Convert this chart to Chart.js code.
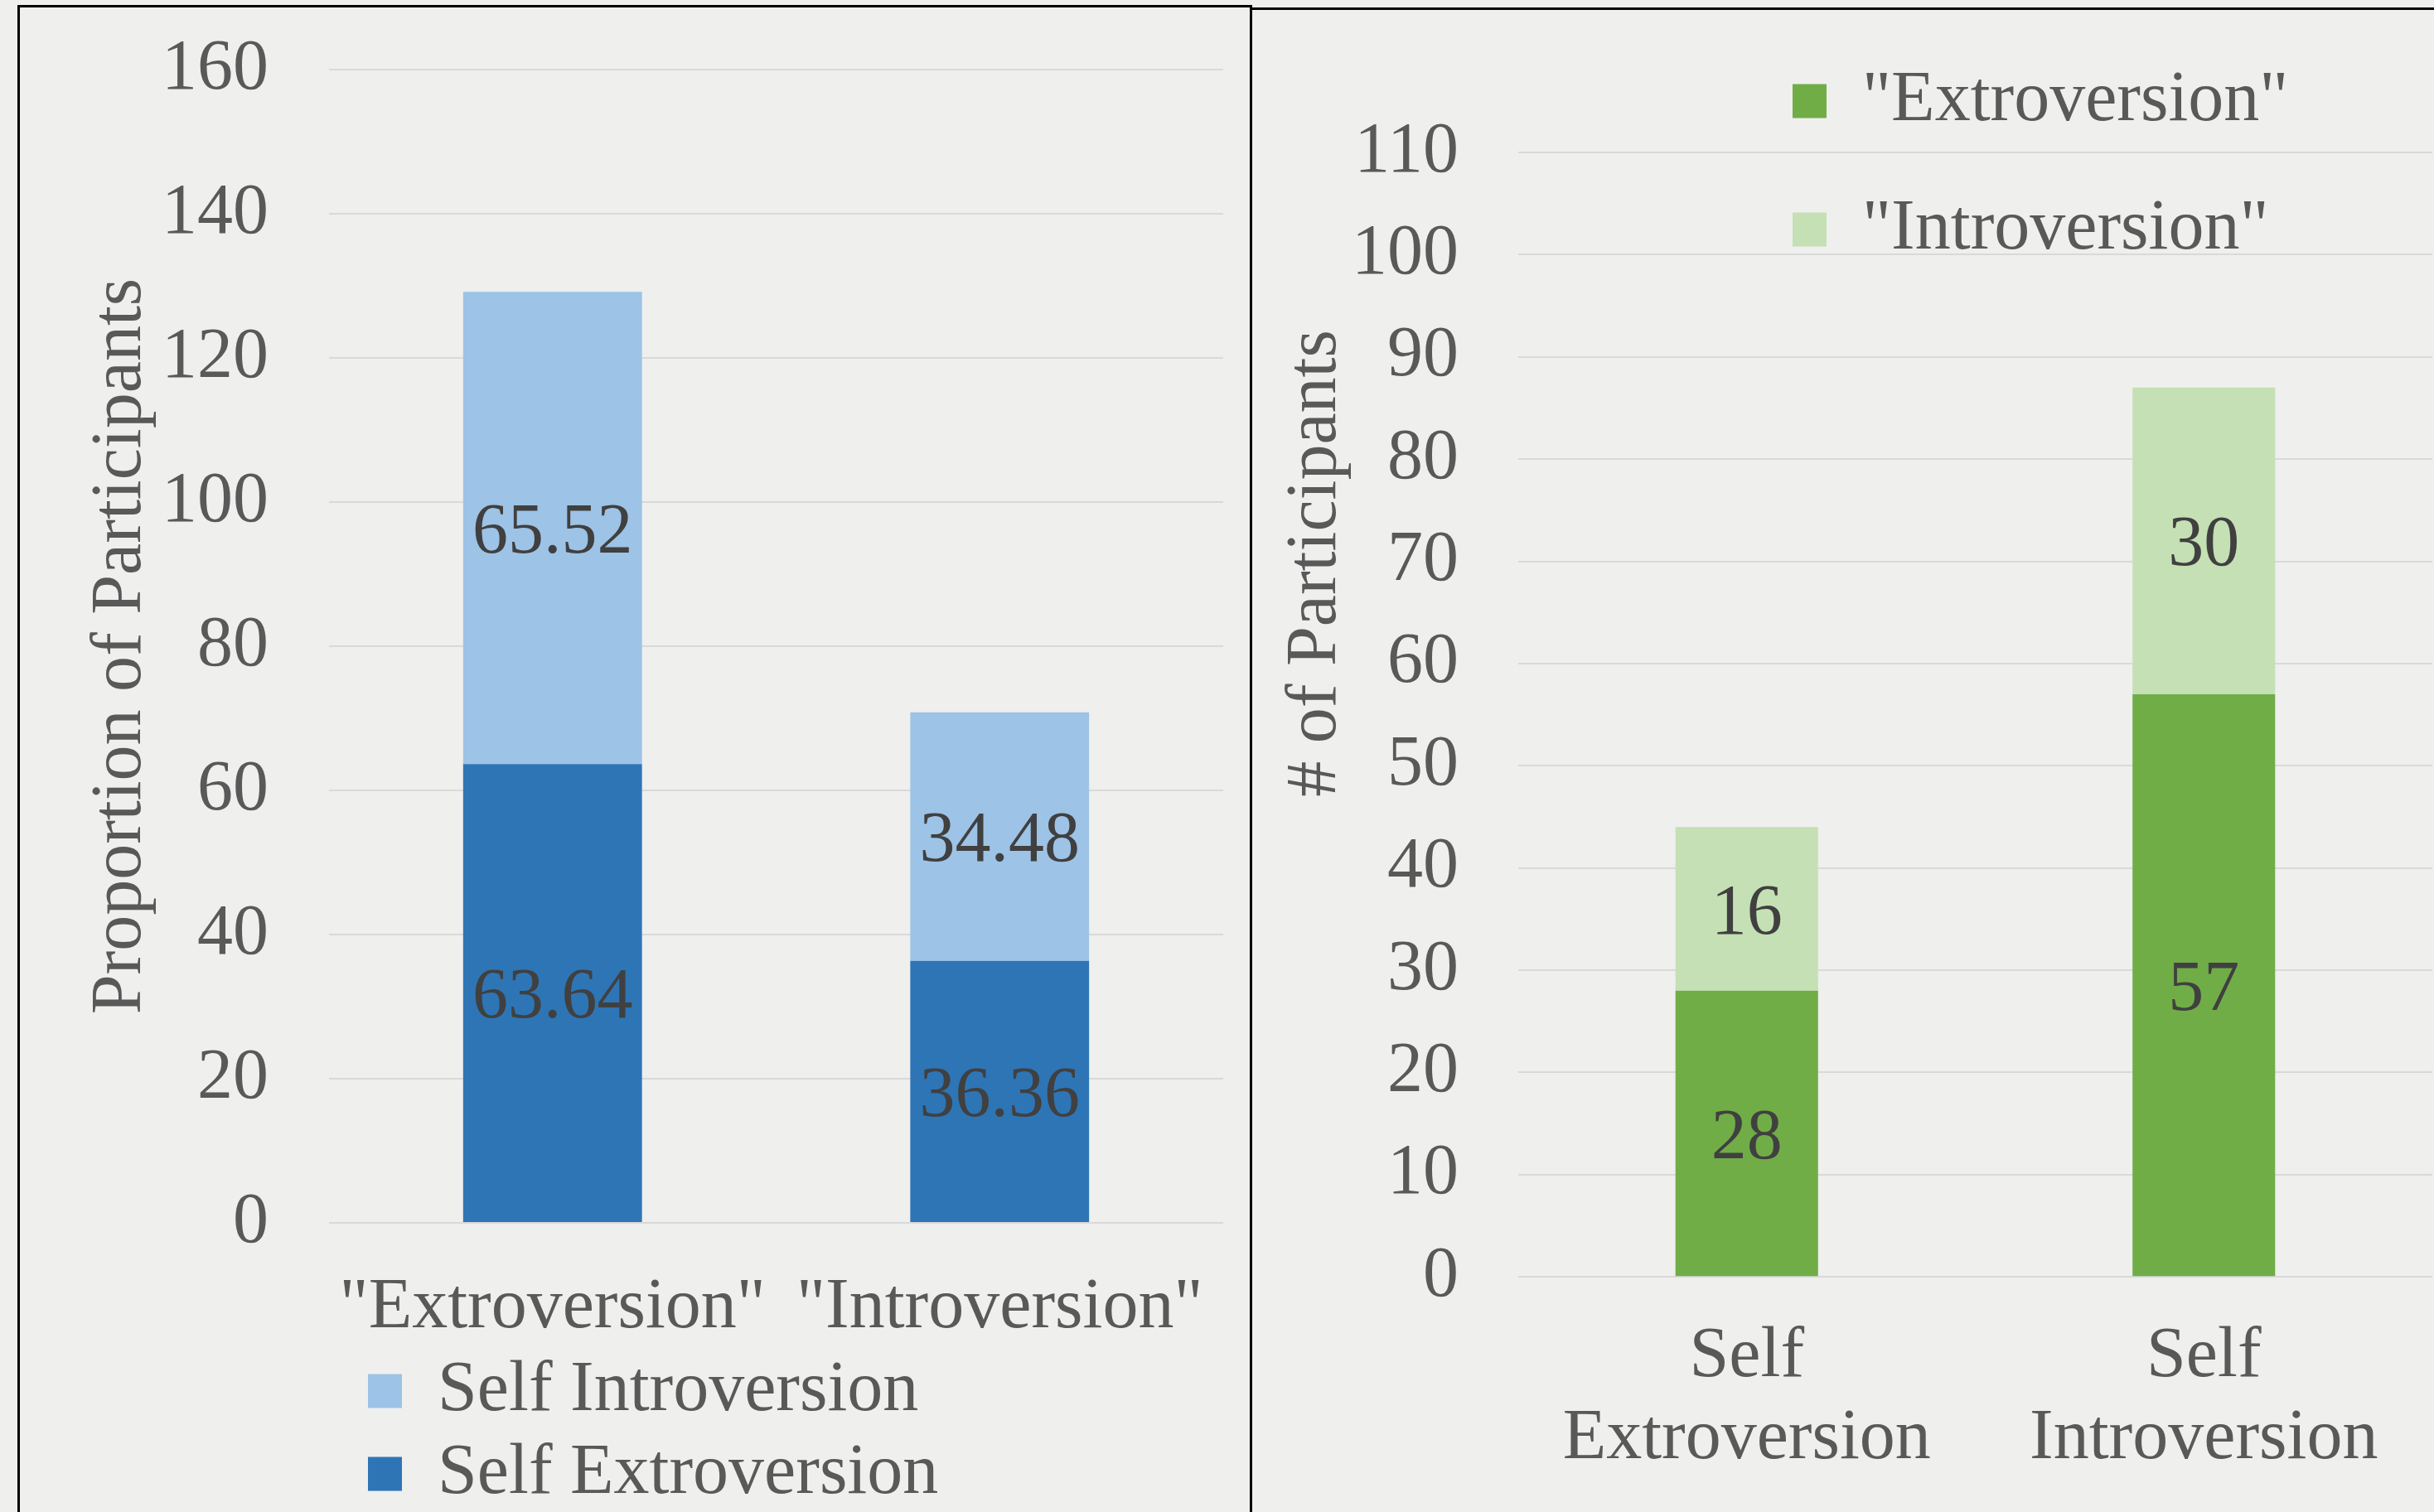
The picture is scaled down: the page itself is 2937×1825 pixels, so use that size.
<!DOCTYPE html>
<html>
<head>
<meta charset="utf-8">
<script src="https://cdn.jsdelivr.net/npm/chart.js@4.4.1/dist/chart.umd.min.js"></script>
<style>
  html, body { margin: 0; padding: 0; width: 2937px; height: 1825px; overflow: hidden; background: #efefee; }
  .panel { position: absolute; border: 3px solid #000; border-bottom: none; box-sizing: border-box; }
  #leftPanel { left: 21px; top: 6px; width: 1490px; height: 1900px; }
  #rightPanel { left: 1508px; top: 9px; width: 1500px; height: 1900px; border-right: none; }
  canvas { position: absolute; }
  #leftChart { left: 22px; top: 7px; }
  #rightChart { left: 1509px; top: 10px; }
</style>
</head>
<body>
<div class="panel" id="leftPanel"></div>
<div class="panel" id="rightPanel"></div>
<canvas id="leftChart" width="1487" height="1838"></canvas>
<canvas id="rightChart" width="1441" height="1835"></canvas>

<script>
// left panel: proportion of participants
const leftCategories = ['"Extroversion"', '"Introversion"'];
const leftSelfExtro = [63.64, 36.36];
const leftSelfIntro = [65.52, 34.48];
const leftTicks = [0, 20, 40, 60, 80, 100, 120, 140, 160];

// right panel: number of participants
const rightCategories = [['Self', 'Extroversion'], ['Self', 'Introversion']];
const rightExtro = [28, 57];
const rightIntro = [16, 30];
const rightTicks = [0, 10, 20, 30, 40, 50, 60, 70, 80, 90, 100, 110];

const FONT = '"Liberation Serif", "Times New Roman", serif';
const TEXT_GREY = '#595959';
const GRID_GREY = '#d9d9d9';

Chart.defaults.font.family = FONT;
Chart.defaults.color = TEXT_GREY;

// writes each segment value in the middle of its bar
const valueLabels = {
    id: 'valueLabels',
    afterDatasetsDraw(chart) {
        const ctx = chart.ctx;
        ctx.save();
        ctx.font = '86px ' + FONT;
        ctx.fillStyle = '#404040';
        ctx.textAlign = 'center';
        ctx.textBaseline = 'middle';
        chart.data.datasets.forEach((ds, di) => {
            chart.getDatasetMeta(di).data.forEach((bar, i) => {
                const p = bar.getProps(['x', 'y', 'base'], true);
                ctx.fillText(String(ds.data[i]), p.x, (p.y + p.base) / 2 + 7);
            });
        });
        ctx.restore();
    }
};

// nudges the legend box to where it sits in the original
const legendPlacer = {
    id: 'legendPlacer',
    afterLayout(chart, args, opts) {
        if (!opts || !chart.legend) return;
        if (opts.left !== undefined) chart.legend.left = opts.left;
        if (opts.top !== undefined) chart.legend.top = opts.top;
    }
};

function yAxis(ticks, title, titlePad, gap) {
    return {
        stacked: true,
        min: ticks[0],
        max: ticks[ticks.length - 1],
        afterBuildTicks: axis => { axis.ticks = ticks.map(v => ({ value: v })); },
        grid: { color: GRID_GREY, lineWidth: 2, drawTicks: true, tickLength: gap, tickColor: 'rgba(0,0,0,0)' },
        border: { display: false },
        ticks: { padding: 0, font: { size: 86, lineHeight: 1 }, color: TEXT_GREY },
        title: { display: true, text: title, color: TEXT_GREY, font: { size: 86, lineHeight: 1 }, padding: titlePad }
    };
}

function xAxis(gap, lineHeight) {
    return {
        stacked: true,
        grid: { display: false, drawTicks: true, tickLength: gap, tickColor: 'rgba(0,0,0,0)' },
        border: { display: false },
        ticks: { padding: 0, autoSkip: false, maxRotation: 0, font: { size: 86, lineHeight: lineHeight }, color: TEXT_GREY }
    };
}

new Chart(document.getElementById('leftChart'), {
    type: 'bar',
    data: {
        labels: leftCategories,
        datasets: [
            { label: 'Self Extroversion', data: leftSelfExtro, backgroundColor: '#2e75b6' },
            { label: 'Self Introversion', data: leftSelfIntro, backgroundColor: '#9dc3e6' }
        ]
    },
    options: {
        responsive: false,
        animation: false,
        layout: { padding: { top: 77, right: 33, bottom: 13, left: 0 } },
        datasets: { bar: { categoryPercentage: 0.8, barPercentage: 0.5 } },
        scales: {
            x: xAxis(60, 1),
            y: yAxis(leftTicks, 'Proportion of Participants', { top: 81, bottom: 6 }, 73)
        },
        plugins: {
            tooltip: { enabled: false },
            legend: {
                position: 'bottom',
                align: 'start',
                fullSize: false,
                reverse: true,
                labels: { boxWidth: 41, boxHeight: 41, padding: 14, color: TEXT_GREY, font: { size: 86 } }
            },
            legendPlacer: { left: 408 }
        }
    },
    plugins: [valueLabels, legendPlacer]
});

new Chart(document.getElementById('rightChart'), {
    type: 'bar',
    data: {
        labels: rightCategories,
        datasets: [
            { label: '"Extroversion"', data: rightExtro, backgroundColor: '#70ad47' },
            { label: '"Introversion"', data: rightIntro, backgroundColor: '#c5e0b4' }
        ]
    },
    options: {
        responsive: false,
        animation: false,
        layout: { padding: { top: 174, right: 15, bottom: 58, left: 0 } },
        datasets: { bar: { categoryPercentage: 0.8, barPercentage: 0.39 } },
        scales: {
            x: xAxis(48, 1.15),
            // leading spaces lift the title like in the original
            y: yAxis(rightTicks, '\u00a0'.repeat(17) + '# of Participants', { top: 36, bottom: 0 }, 72)
        },
        plugins: {
            tooltip: { enabled: false },
            legend: {
                position: 'chartArea',
                align: 'start',
                fullSize: false,
                labels: { boxWidth: 41, boxHeight: 41, padding: 69, color: TEXT_GREY, font: { size: 86 } }
            },
            legendPlacer: { left: 585, top: 0 }
        }
    },
    plugins: [valueLabels, legendPlacer]
});
</script>
</body>
</html>
